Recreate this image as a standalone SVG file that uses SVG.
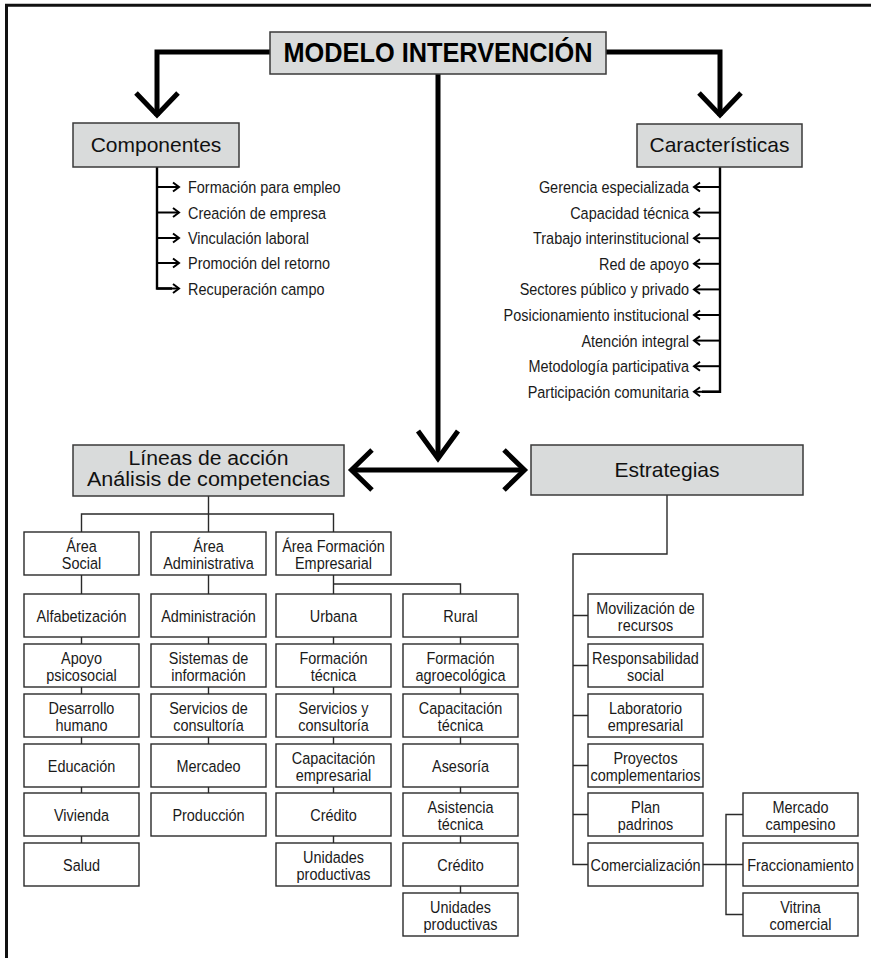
<svg xmlns="http://www.w3.org/2000/svg" width="871" height="958" viewBox="0 0 871 958">
<style>
.bg{fill:#ffffff}
.frame{stroke:#111;stroke-width:3;fill:none}
.hbox{fill:#d9dbdb;stroke:#3a3a3a;stroke-width:1.5}
.box{fill:#ffffff;stroke:#2a2a2a;stroke-width:1.4}
.thin{fill:none;stroke:#2a2a2a;stroke-width:1.4}
.big{fill:none;stroke:#000;stroke-width:5;stroke-linejoin:miter}
.stem{fill:none;stroke:#000;stroke-width:2.4}
.arr{fill:none;stroke:#000;stroke-width:2}
.t{font-family:"Liberation Sans",Arial,sans-serif;font-size:17px;fill:#1a1a1a;text-anchor:middle}
.l{font-family:"Liberation Sans",Arial,sans-serif;font-size:17px;fill:#1a1a1a}
.le{font-family:"Liberation Sans",Arial,sans-serif;font-size:17px;fill:#1a1a1a;text-anchor:end}
.h{font-family:"Liberation Sans",Arial,sans-serif;font-size:21px;fill:#111;text-anchor:middle}
.h2{font-family:"Liberation Sans",Arial,sans-serif;font-size:19.5px;fill:#111;text-anchor:middle}
.title{font-family:"Liberation Sans",Arial,sans-serif;font-size:27px;font-weight:bold;fill:#000;text-anchor:middle}
</style>
<defs>
<marker id="ah" viewBox="-8 -6 10 12" refX="0" refY="0" markerWidth="10" markerHeight="12" markerUnits="userSpaceOnUse" orient="auto">
<path d="M-6,-4.5 L0,0 L-6,4.5" fill="none" stroke="#000" stroke-width="2"/>
</marker>
</defs>
<rect class="bg" x="0" y="0" width="871" height="958"/>
<g id="frame">
<path class="frame" d="M6.5,958 V5.3 H871"/>
</g>

<g id="connectors">
<path class="big" d="M270,52 H157 V116"/>
<path class="big" d="M136,93 L157,115 L178,93"/>
<path class="big" d="M606,52 H720 V116"/>
<path class="big" d="M699,93 L720,115 L741,93"/>
<path class="big" d="M438,74 V458"/>
<path class="big" d="M418,431 L438,458.5 L458,431"/>
<path class="big" d="M352,470 H524"/>
<path class="big" d="M372,450 L351.5,470 L372,490"/>
<path class="big" d="M504,450 L524.5,470 L504,490"/>

<path class="stem" d="M157,167 V288.5 H172"/>
<line class="arr" x1="157" y1="187" x2="179" y2="187" marker-end="url(#ah)"/>
<line class="arr" x1="157" y1="212.5" x2="179" y2="212.5" marker-end="url(#ah)"/>
<line class="arr" x1="157" y1="238" x2="179" y2="238" marker-end="url(#ah)"/>
<line class="arr" x1="157" y1="263" x2="179" y2="263" marker-end="url(#ah)"/>
<line class="arr" x1="157" y1="288.5" x2="179" y2="288.5" marker-end="url(#ah)"/>

<path class="stem" d="M720,167 V391.8 H702"/>
<line class="arr" x1="720" y1="187" x2="694" y2="187" marker-end="url(#ah)"/>
<line class="arr" x1="720" y1="212.6" x2="694" y2="212.6" marker-end="url(#ah)"/>
<line class="arr" x1="720" y1="238.2" x2="694" y2="238.2" marker-end="url(#ah)"/>
<line class="arr" x1="720" y1="263.8" x2="694" y2="263.8" marker-end="url(#ah)"/>
<line class="arr" x1="720" y1="289.4" x2="694" y2="289.4" marker-end="url(#ah)"/>
<line class="arr" x1="720" y1="315" x2="694" y2="315" marker-end="url(#ah)"/>
<line class="arr" x1="720" y1="340.6" x2="694" y2="340.6" marker-end="url(#ah)"/>
<line class="arr" x1="720" y1="366.2" x2="694" y2="366.2" marker-end="url(#ah)"/>
<line class="arr" x1="720" y1="391.8" x2="694" y2="391.8" marker-end="url(#ah)"/>

<path class="thin" d="M208.5,496 V532 M81.5,532 V514 H333.5 V532"/>
<path class="thin" d="M81.5,575 V843"/>
<path class="thin" d="M208.5,575 V793"/>
<path class="thin" d="M333.5,575 V843"/>
<path class="thin" d="M333.5,584 H460.5 V893"/>

<path class="thin" d="M667,495 V554 H573 V864.5 H588"/>
<path class="thin" d="M573,615.5 H588 M573,665.5 H588 M573,715.5 H588 M573,765.5 H588 M573,814.5 H588"/>
<path class="thin" d="M703,864.5 H743 M743,814.5 H726 V914.5 H743"/>
</g>

<g id="n-modelo"><rect class="hbox" x="270" y="32" width="336" height="42"/><text class="title" x="438" y="62" textLength="309" lengthAdjust="spacingAndGlyphs">MODELO INTERVENCIÓN</text></g>
<g id="n-componentes"><rect class="hbox" x="73" y="123" width="166" height="44"/><text class="h" x="156" y="152">Componentes</text></g>
<g id="n-caracteristicas"><rect class="hbox" x="637" y="124" width="165" height="43"/><text class="h" x="719.5" y="152">Características</text></g>

<g id="componentes-items">
<text class="l" transform="translate(188,193) scale(.85,1)">Formación para empleo</text>
<text class="l" transform="translate(188,218.5) scale(.85,1)">Creación de empresa</text>
<text class="l" transform="translate(188,244) scale(.85,1)">Vinculación laboral</text>
<text class="l" transform="translate(188,269) scale(.85,1)">Promoción del retorno</text>
<text class="l" transform="translate(188,294.5) scale(.85,1)">Recuperación campo</text>
</g>
<g id="caracteristicas-items">
<text class="le" transform="translate(689,193) scale(.85,1)">Gerencia especializada</text>
<text class="le" transform="translate(689,218.6) scale(.85,1)">Capacidad técnica</text>
<text class="le" transform="translate(689,244.2) scale(.85,1)">Trabajo interinstitucional</text>
<text class="le" transform="translate(689,269.8) scale(.85,1)">Red de apoyo</text>
<text class="le" transform="translate(689,295.4) scale(.85,1)">Sectores público y privado</text>
<text class="le" transform="translate(689,321) scale(.85,1)">Posicionamiento institucional</text>
<text class="le" transform="translate(689,346.6) scale(.85,1)">Atención integral</text>
<text class="le" transform="translate(689,372.2) scale(.85,1)">Metodología participativa</text>
<text class="le" transform="translate(689,397.8) scale(.85,1)">Participación comunitaria</text>
</g>

<g id="n-lineas"><rect class="hbox" x="73" y="445" width="271" height="51"/><text class="h2" x="208.5" y="465" textLength="160" lengthAdjust="spacingAndGlyphs">Líneas de acción</text><text class="h2" x="208.5" y="486" textLength="243" lengthAdjust="spacingAndGlyphs">Análisis de competencias</text></g>
<g id="n-estrategias"><rect class="hbox" x="531" y="445" width="272" height="50"/><text class="h" x="667" y="477">Estrategias</text></g>

<g id="n-area-social"><rect class="box" x="24" y="532" width="115" height="43"/><text class="t" transform="translate(81.5,552) scale(.85,1)"><tspan x="0">Área</tspan><tspan x="0" dy="17">Social</tspan></text></g>
<g id="n-area-admin"><rect class="box" x="151" y="532" width="115" height="43"/><text class="t" transform="translate(208.5,552) scale(.85,1)"><tspan x="0">Área</tspan><tspan x="0" dy="17">Administrativa</tspan></text></g>
<g id="n-area-form"><rect class="box" x="276" y="532" width="115" height="43"/><text class="t" transform="translate(333.5,552) scale(.85,1)"><tspan x="0">Área Formación</tspan><tspan x="0" dy="17">Empresarial</tspan></text></g>

<g id="n-alfabetizacion"><rect class="box" x="24" y="594" width="115" height="43"/><text class="t" transform="translate(81.5,622) scale(.85,1)">Alfabetización</text></g>
<g id="n-apoyo"><rect class="box" x="24" y="644" width="115" height="43"/><text class="t" transform="translate(81.5,664) scale(.85,1)"><tspan x="0">Apoyo</tspan><tspan x="0" dy="17">psicosocial</tspan></text></g>
<g id="n-desarrollo"><rect class="box" x="24" y="694" width="115" height="43"/><text class="t" transform="translate(81.5,714) scale(.85,1)"><tspan x="0">Desarrollo</tspan><tspan x="0" dy="17">humano</tspan></text></g>
<g id="n-educacion"><rect class="box" x="24" y="744" width="115" height="43"/><text class="t" transform="translate(81.5,772) scale(.85,1)">Educación</text></g>
<g id="n-vivienda"><rect class="box" x="24" y="793" width="115" height="43"/><text class="t" transform="translate(81.5,821) scale(.85,1)">Vivienda</text></g>
<g id="n-salud"><rect class="box" x="24" y="843" width="115" height="43"/><text class="t" transform="translate(81.5,871) scale(.85,1)">Salud</text></g>

<g id="n-administracion"><rect class="box" x="151" y="594" width="115" height="43"/><text class="t" transform="translate(208.5,622) scale(.85,1)">Administración</text></g>
<g id="n-sistemas"><rect class="box" x="151" y="644" width="115" height="43"/><text class="t" transform="translate(208.5,664) scale(.85,1)"><tspan x="0">Sistemas de</tspan><tspan x="0" dy="17">información</tspan></text></g>
<g id="n-servicios-consultoria"><rect class="box" x="151" y="694" width="115" height="43"/><text class="t" transform="translate(208.5,714) scale(.85,1)"><tspan x="0">Servicios de</tspan><tspan x="0" dy="17">consultoría</tspan></text></g>
<g id="n-mercadeo"><rect class="box" x="151" y="744" width="115" height="43"/><text class="t" transform="translate(208.5,772) scale(.85,1)">Mercadeo</text></g>
<g id="n-produccion"><rect class="box" x="151" y="793" width="115" height="43"/><text class="t" transform="translate(208.5,821) scale(.85,1)">Producción</text></g>

<g id="n-urbana"><rect class="box" x="276" y="594" width="115" height="43"/><text class="t" transform="translate(333.5,622) scale(.85,1)">Urbana</text></g>
<g id="n-formacion-tecnica"><rect class="box" x="276" y="644" width="115" height="43"/><text class="t" transform="translate(333.5,664) scale(.85,1)"><tspan x="0">Formación</tspan><tspan x="0" dy="17">técnica</tspan></text></g>
<g id="n-servicios-y"><rect class="box" x="276" y="694" width="115" height="43"/><text class="t" transform="translate(333.5,714) scale(.85,1)"><tspan x="0">Servicios y</tspan><tspan x="0" dy="17">consultoría</tspan></text></g>
<g id="n-cap-empresarial"><rect class="box" x="276" y="744" width="115" height="43"/><text class="t" transform="translate(333.5,764) scale(.85,1)"><tspan x="0">Capacitación</tspan><tspan x="0" dy="17">empresarial</tspan></text></g>
<g id="n-credito-u"><rect class="box" x="276" y="793" width="115" height="43"/><text class="t" transform="translate(333.5,821) scale(.85,1)">Crédito</text></g>
<g id="n-unidades-u"><rect class="box" x="276" y="843" width="115" height="43"/><text class="t" transform="translate(333.5,863) scale(.85,1)"><tspan x="0">Unidades</tspan><tspan x="0" dy="17">productivas</tspan></text></g>

<g id="n-rural"><rect class="box" x="403" y="594" width="115" height="43"/><text class="t" transform="translate(460.5,622) scale(.85,1)">Rural</text></g>
<g id="n-formacion-agro"><rect class="box" x="403" y="644" width="115" height="43"/><text class="t" transform="translate(460.5,664) scale(.85,1)"><tspan x="0">Formación</tspan><tspan x="0" dy="17">agroecológica</tspan></text></g>
<g id="n-cap-tecnica"><rect class="box" x="403" y="694" width="115" height="43"/><text class="t" transform="translate(460.5,714) scale(.85,1)"><tspan x="0">Capacitación</tspan><tspan x="0" dy="17">técnica</tspan></text></g>
<g id="n-asesoria"><rect class="box" x="403" y="744" width="115" height="43"/><text class="t" transform="translate(460.5,772) scale(.85,1)">Asesoría</text></g>
<g id="n-asistencia"><rect class="box" x="403" y="793" width="115" height="43"/><text class="t" transform="translate(460.5,813) scale(.85,1)"><tspan x="0">Asistencia</tspan><tspan x="0" dy="17">técnica</tspan></text></g>
<g id="n-credito-r"><rect class="box" x="403" y="843" width="115" height="43"/><text class="t" transform="translate(460.5,871) scale(.85,1)">Crédito</text></g>
<g id="n-unidades-r"><rect class="box" x="403" y="893" width="115" height="43"/><text class="t" transform="translate(460.5,913) scale(.85,1)"><tspan x="0">Unidades</tspan><tspan x="0" dy="17">productivas</tspan></text></g>

<g id="n-movilizacion"><rect class="box" x="588" y="594" width="115" height="43"/><text class="t" transform="translate(645.5,614) scale(.85,1)"><tspan x="0">Movilización de</tspan><tspan x="0" dy="17">recursos</tspan></text></g>
<g id="n-responsabilidad"><rect class="box" x="588" y="644" width="115" height="43"/><text class="t" transform="translate(645.5,664) scale(.85,1)"><tspan x="0">Responsabilidad</tspan><tspan x="0" dy="17">social</tspan></text></g>
<g id="n-laboratorio"><rect class="box" x="588" y="694" width="115" height="43"/><text class="t" transform="translate(645.5,714) scale(.85,1)"><tspan x="0">Laboratorio</tspan><tspan x="0" dy="17">empresarial</tspan></text></g>
<g id="n-proyectos"><rect class="box" x="588" y="744" width="115" height="43"/><text class="t" transform="translate(645.5,764) scale(.85,1)"><tspan x="0">Proyectos</tspan><tspan x="0" dy="17">complementarios</tspan></text></g>
<g id="n-plan"><rect class="box" x="588" y="793" width="115" height="43"/><text class="t" transform="translate(645.5,813) scale(.85,1)"><tspan x="0">Plan</tspan><tspan x="0" dy="17">padrinos</tspan></text></g>
<g id="n-comercializacion"><rect class="box" x="588" y="843" width="115" height="43"/><text class="t" transform="translate(645.5,871) scale(.85,1)">Comercialización</text></g>

<g id="n-mercado"><rect class="box" x="743" y="793" width="115" height="43"/><text class="t" transform="translate(800.5,813) scale(.85,1)"><tspan x="0">Mercado</tspan><tspan x="0" dy="17">campesino</tspan></text></g>
<g id="n-fraccionamiento"><rect class="box" x="743" y="843" width="115" height="43"/><text class="t" transform="translate(800.5,871) scale(.85,1)">Fraccionamiento</text></g>
<g id="n-vitrina"><rect class="box" x="743" y="893" width="115" height="43"/><text class="t" transform="translate(800.5,913) scale(.85,1)"><tspan x="0">Vitrina</tspan><tspan x="0" dy="17">comercial</tspan></text></g>
</svg>
